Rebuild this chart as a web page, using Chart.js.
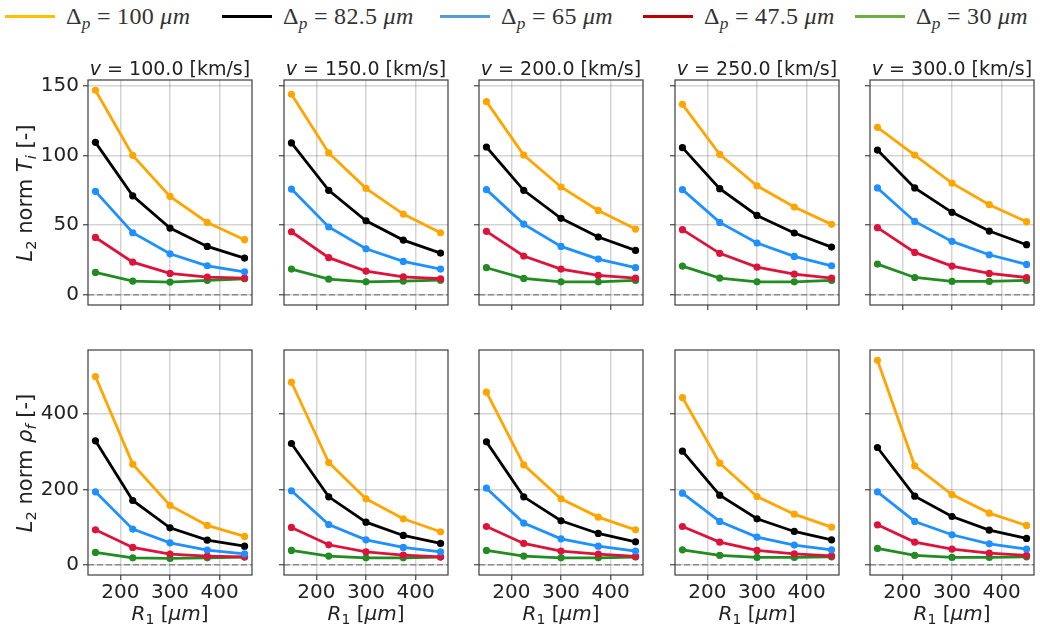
<!DOCTYPE html>
<html>
<head>
<meta charset="utf-8">
<script src="https://cdn.jsdelivr.net/npm/chart.js@4.4.1/dist/chart.umd.min.js"></script>
<style>
    body { margin: 0; width: 1040px; height: 631px; background: #fff; position: relative; overflow: hidden; font-family: 'DejaVu Sans', sans-serif; color: #222; }
    canvas { position: absolute; }
    .title, .xlabel { position: absolute; text-align: center; font-size: 19px; line-height: 22px; white-space: nowrap; }
    .xlabel { font-size: 20px; }
    .ylabel { position: absolute; font-size: 21px; white-space: nowrap; transform: translate(-50%, -50%) rotate(-90deg); }
    sub { font-size: 0.7em; vertical-align: -0.25em; line-height: 0; }
    .legend-item { position: absolute; top: 2px; height: 28px; display: flex; align-items: center; font-family: 'Liberation Serif', serif; font-size: 24px; letter-spacing: 0.3px; color: #333; white-space: nowrap; }
    .legend-item .swatch { width: 50px; height: 3px; margin-right: 11px; }
    .legend-item sub { font-style: italic; font-size: 0.72em; vertical-align: -0.3em; }
</style>
</head>
<body>
<script>
const radii = [150, 225, 300, 375, 450];
const velocities = ['100.0', '150.0', '200.0', '250.0', '300.0'];
const deltaLabels = ['100', '82.5', '65', '47.5', '30'];
const xTicks = [200, 300, 400];
const tempTicks = [0, 50, 100, 150];
const rhoTicks = [0, 200, 400];

// L2 norm T_i, one array per velocity, rows = delta_p 100, 82.5, 65, 47.5, 30
const tempV100 = [
    [146.7, 100, 70.6, 51.9, 39.5],
    [109.3, 71, 47.8, 34.7, 26.3],
    [74.2, 44.5, 29.4, 20.8, 16.5],
    [41.1, 23.4, 15.3, 12.7, 12],
    [16, 9.8, 9.1, 10.3, 11.5]
];
const tempV150 = [
    [143.8, 101.7, 76.3, 57.9, 44.5],
    [108.9, 74.9, 53.1, 39.2, 29.9],
    [75.8, 48.6, 33, 23.9, 18.4],
    [45.2, 26.6, 17, 12.9, 11.5],
    [18.4, 11.2, 9.3, 9.8, 10.5]
];
const tempV200 = [
    [138.5, 100.2, 77.3, 60.5, 47.1],
    [106, 74.9, 54.8, 41.4, 31.8],
    [75.4, 50.7, 34.7, 25.6, 19.4],
    [45.5, 27.8, 18.4, 13.9, 12],
    [19.4, 11.7, 9.3, 9.3, 10.3]
];
const tempV250 = [
    [136.6, 100.7, 78.2, 62.9, 50.5],
    [105.5, 76.1, 56.9, 44.3, 34.2],
    [75.4, 51.9, 37.1, 27.5, 20.8],
    [46.7, 29.7, 19.9, 14.8, 12],
    [20.6, 12, 9.3, 9.3, 10.3]
];
const tempV300 = [
    [120.1, 100.2, 80.1, 64.6, 52.4],
    [103.8, 76.6, 59.1, 45.7, 35.9],
    [76.6, 52.6, 38.3, 28.7, 21.8],
    [48.1, 30.4, 20.6, 15.3, 12.4],
    [22, 12.4, 9.6, 9.6, 10.3]
];

// L2 norm rho_f
const rhoV100 = [
    [498.9, 266.7, 157.2, 104.2, 75.1],
    [328.5, 170.4, 98, 65.3, 49.4],
    [193.4, 94.5, 58.3, 38.9, 29.1],
    [92.7, 45.9, 28.3, 23, 21.2],
    [32.7, 18.5, 16.8, 18.5, 20.3]
];
const rhoV150 = [
    [483.9, 271, 174.8, 121.9, 87.4],
    [321.4, 180.1, 113, 77.7, 56.5],
    [196, 106.8, 66.2, 45.9, 34.4],
    [98.9, 53, 34.4, 25.6, 21.2],
    [38, 23, 18.5, 18.5, 20.3]
];
const rhoV200 = [
    [457.4, 264.9, 174.8, 126.3, 92.7],
    [325.8, 180.1, 116.6, 83, 60.9],
    [203.1, 110.4, 68.9, 49.4, 36.2],
    [101.5, 56.5, 36.2, 28.3, 22.1],
    [38, 23, 18.5, 18.5, 20.3]
];
const rhoV250 = [
    [443.3, 269.3, 181, 134.2, 99.8],
    [301.1, 184.5, 121.9, 88.3, 66.2],
    [189.8, 114.8, 73.3, 52.1, 39.7],
    [101.5, 60, 38, 29.1, 23.8],
    [39.7, 24.7, 19.4, 19.4, 21.2]
];
const rhoV300 = [
    [542.2, 262.3, 186.3, 136.9, 104.2],
    [310.8, 181.9, 128, 91.8, 69.8],
    [193.4, 114.8, 79.5, 55.6, 41.5],
    [106, 60, 41.5, 30.9, 24.7],
    [43.3, 24.7, 19.4, 19.4, 21.2]
];

const tempRows = [tempV100, tempV150, tempV200, tempV250, tempV300];
const rhoRows = [rhoV100, rhoV150, rhoV200, rhoV250, rhoV300];

const lineColors = ['#FFA500', '#000000', '#1E90FF', '#DC143C', '#228B22'];
const legendColors = ['#FFC000', '#000000', '#5B9BD5', '#C00000', '#70AD47'];

// layout
const frameLefts = [88, 284, 479, 675, 870];
const frameW = 164;
const rowTops = [80, 350];
const frameH = 225;
const legendLefts = [5, 222, 440, 643, 855];

Chart.defaults.font.family = 'DejaVu Sans';
Chart.defaults.font.size = 20;
Chart.defaults.color = '#222';

function axisRange(lo, hi) {
    const pad = (hi - lo) * 0.05;
    return [lo - pad, hi + pad];
}

const xRange = axisRange(radii[0], radii[radii.length - 1]);
const tempRange = axisRange(0, Math.max(...tempRows.flat(2)));
const rhoRange = axisRange(0, Math.max(...rhoRows.flat(2)));

const framePlugin = {
    id: 'frame',
    beforeDatasetsDraw(chart) {
        const { ctx, chartArea: a, scales } = chart;
        const y0 = scales.y.getPixelForValue(0);
        ctx.save();
        ctx.strokeStyle = '#8c8c8c';
        ctx.lineWidth = 1.6;
        ctx.setLineDash([6, 3]);
        ctx.beginPath();
        ctx.moveTo(a.left, y0);
        ctx.lineTo(a.right, y0);
        ctx.stroke();
        ctx.restore();
    },
    afterDatasetsDraw(chart) {
        const { ctx, chartArea: a } = chart;
        ctx.save();
        ctx.strokeStyle = '#3c3c3c';
        ctx.lineWidth = 1.2;
        ctx.strokeRect(a.left, a.top, a.right - a.left, a.bottom - a.top);
        ctx.restore();
    }
};

function noPadding(s) {
    s.paddingTop = 0;
    s.paddingBottom = 0;
    s.paddingLeft = 0;
    s.paddingRight = 0;
}

function makePanel(row, col) {
    const series = row === 0 ? tempRows[col] : rhoRows[col];
    const yTicks = row === 0 ? tempTicks : rhoTicks;
    const yRange = row === 0 ? tempRange : rhoRange;
    const LW = col === 0 ? 64 : 8;
    const BH = row === 1 ? 30 : 8;
    const TH = 4, RW = 4;

    const canvas = document.createElement('canvas');
    canvas.width = LW + frameW + RW;
    canvas.height = TH + frameH + BH;
    canvas.style.left = (frameLefts[col] - LW) + 'px';
    canvas.style.top = (rowTops[row] - TH) + 'px';
    document.body.appendChild(canvas);

    const gridOpts = { color: 'rgba(0,0,0,0.17)', lineWidth: 1.5, tickLength: 5, tickColor: '#444', tickWidth: 1.2 };

    new Chart(canvas, {
        type: 'line',
        data: {
            datasets: series.map((vals, i) => ({
                label: 'Δp = ' + deltaLabels[i] + ' μm',
                data: vals.map((v, j) => ({ x: radii[j], y: v })),
                borderColor: lineColors[i],
                backgroundColor: lineColors[i],
                borderWidth: 2.8,
                pointRadius: 3.6,
                pointBorderWidth: 0,
                tension: 0
            }))
        },
        options: {
            responsive: false,
            animation: false,
            events: [],
            layout: { padding: { top: TH, right: RW, left: 0, bottom: 0 }, autoPadding: false },
            plugins: { legend: { display: false }, tooltip: { enabled: false } },
            scales: {
                x: {
                    type: 'linear',
                    min: xRange[0],
                    max: xRange[1],
                    afterBuildTicks: s => { s.ticks = xTicks.map(v => ({ value: v })); },
                    afterFit: s => { s.height = BH; noPadding(s); },
                    grid: gridOpts,
                    border: { display: false },
                    ticks: { display: row === 1, font: { size: 20 }, color: '#222', padding: 1, maxRotation: 0 }
                },
                y: {
                    type: 'linear',
                    min: yRange[0],
                    max: yRange[1],
                    afterBuildTicks: s => { s.ticks = yTicks.map(v => ({ value: v })); },
                    afterFit: s => { s.width = LW; noPadding(s); },
                    grid: gridOpts,
                    border: { display: false },
                    ticks: { display: col === 0, font: { size: 20 }, color: '#222', padding: 4 }
                }
            }
        },
        plugins: [framePlugin]
    });
}

function addText(cls, html, style) {
    const d = document.createElement('div');
    d.className = cls;
    d.innerHTML = html;
    Object.assign(d.style, style);
    document.body.appendChild(d);
    return d;
}

for (let row = 0; row < 2; row++) {
    for (let col = 0; col < 5; col++) {
        makePanel(row, col);
    }
}

velocities.forEach((v, col) => {
    addText('title', '<i>v</i> = ' + v + ' [km/s]', {
        left: frameLefts[col] - 20 + 'px', width: frameW + 40 + 'px', top: '57px'
    });
    addText('xlabel', '<i>R</i><sub>1</sub> [<i>μm</i>]', {
        left: frameLefts[col] - 20 + 'px', width: frameW + 40 + 'px', top: '602px'
    });
});

addText('ylabel', '<i>L</i><sub>2</sub> norm <i>T<sub>i</sub></i> [-]', { left: '25px', top: rowTops[0] + frameH / 2 + 'px' });
addText('ylabel', '<i>L</i><sub>2</sub> norm <i>ρ<sub>f</sub></i> [-]', { left: '25px', top: rowTops[1] + frameH / 2 + 'px' });

deltaLabels.forEach((d, i) => {
    addText('legend-item',
        '<span class="swatch" style="background:' + legendColors[i] + '"></span>' +
        '<span>Δ<sub>p</sub> = ' + d + ' <i>μm</i></span>',
        { left: legendLefts[i] + 'px' });
});
</script>
</body>
</html>
